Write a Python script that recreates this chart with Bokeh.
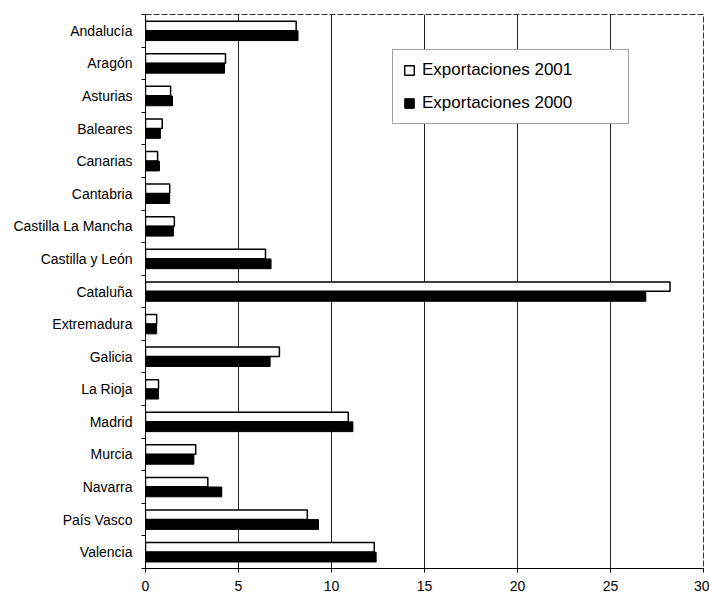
from bokeh.plotting import figure
from bokeh.models import FixedTicker, Legend, LegendItem, ColumnDataSource
from bokeh.transform import dodge
from bokeh.embed import file_html
from bokeh.resources import INLINE

regions = ["Andalucía", "Aragón", "Asturias", "Baleares", "Canarias", "Cantabria",
           "Castilla La Mancha", "Castilla y León", "Cataluña", "Extremadura", "Galicia",
           "La Rioja", "Madrid", "Murcia", "Navarra", "País Vasco", "Valencia"]
exp_2001 = [8.1, 4.3, 1.35, 0.9, 0.65, 1.3, 1.55, 6.45, 28.2, 0.6, 7.2, 0.7, 10.9, 2.7, 3.35, 8.7, 12.3]
exp_2000 = [8.2, 4.25, 1.45, 0.8, 0.75, 1.3, 1.5, 6.75, 26.9, 0.6, 6.7, 0.7, 11.15, 2.6, 4.1, 9.3, 12.4]
x_ticks = [0, 5, 10, 15, 20, 25, 30]

n = len(regions)
pos = [n - 1 - i for i in range(n)]
src = ColumnDataSource(dict(pos=pos, region=regions, e01=exp_2001, e00=exp_2000))

FONT = "Liberation Sans"

p = figure(width=709, height=593, x_range=(0, 30), y_range=(-0.5, n - 0.5),
           output_backend="svg", toolbar_location=None,
           min_border_left=145, min_border_right=6, min_border_top=14, min_border_bottom=24)

r01 = p.hbar(y=dodge("pos", 0.15), right="e01", left=0, height=0.29, source=src,
             fill_color="white", line_color="black", line_width=1.5)
r00 = p.hbar(y=dodge("pos", -0.15), right="e00", left=0, height=0.3, source=src,
             fill_color="black", line_color="black", line_width=1)

# axes
p.xaxis.ticker = FixedTicker(ticks=x_ticks)
p.xaxis.major_tick_out = 4
p.xaxis.major_tick_in = 0
p.xaxis.minor_tick_line_color = None
p.xaxis.major_label_standoff = 8
p.xaxis.major_label_text_font = FONT
p.xaxis.major_label_text_font_size = "14px"
p.xaxis.major_label_text_color = "black"
p.xaxis.axis_line_color = "black"
p.xaxis.major_tick_line_color = "black"

p.yaxis.ticker = FixedTicker(ticks=pos, minor_ticks=[k - 0.5 for k in range(n + 1)])
p.yaxis.major_label_overrides = {pp: r for pp, r in zip(pos, regions)}
p.yaxis.major_tick_line_color = None
p.yaxis.minor_tick_line_color = "black"
p.yaxis.minor_tick_out = 4
p.yaxis.minor_tick_in = 0
p.yaxis.major_label_standoff = 7
p.yaxis.major_label_text_font = FONT
p.yaxis.major_label_text_font_size = "14px"
p.yaxis.major_label_text_color = "black"
p.yaxis.axis_line_color = "black"

p.xgrid.grid_line_color = "#222222"
p.xgrid.grid_line_width = 1
p.ygrid.grid_line_color = None

p.outline_line_color = "#333333"
p.outline_line_dash = "6 2"
p.background_fill_color = "white"
p.border_fill_color = "white"

legend = Legend(items=[LegendItem(label="Exportaciones 2001", renderers=[r01]),
                       LegendItem(label="Exportaciones 2000", renderers=[r00])],
                location=(247, 444))
legend.label_text_font = FONT
legend.label_text_font_size = "17px"
legend.label_text_color = "black"
legend.glyph_width = 12
legend.glyph_height = 12
legend.label_height = 20
legend.label_width = 196
legend.label_standoff = 7
legend.spacing = 13
legend.padding = 10
legend.margin = 0
legend.border_line_color = "#444444"
legend.border_line_width = 1
legend.background_fill_color = "white"
legend.background_fill_alpha = 1
p.add_layout(legend, "center")

open("out.html", "w").write(file_html(p, INLINE))
